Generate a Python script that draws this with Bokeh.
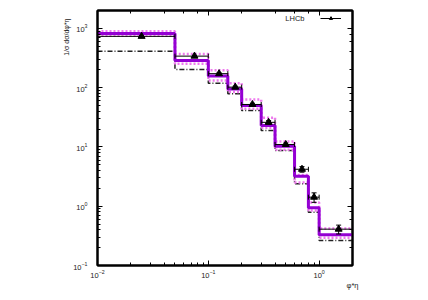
from math import pi
from bokeh.plotting import figure
from bokeh.models import (LogAxis, Label, Legend, LegendItem, Range1d,
                          LogTicker, Title)
from bokeh.embed import file_html
from bokeh.resources import INLINE

# ---- data -------------------------------------------------------------
bin_lo = [0.0, 0.05, 0.10, 0.15, 0.20, 0.30, 0.40, 0.60, 0.80, 1.00]
bin_hi = [0.05, 0.10, 0.15, 0.20, 0.30, 0.40, 0.60, 0.80, 1.00, 2.00]
lhcb_y = [733, 340, 172, 102, 52, 26, 11.0, 4.2, 1.42, 0.41]
lhcb_err = [22, 10, 6, 4, 2.5, 1.8, 0.6, 0.45, 0.26, 0.07]
central = [815, 288, 157, 95, 50, 23, 10.3, 3.2, 0.94, 0.33]
band_up = [890, 368, 196, 119, 63, 31, 12.4, 3.35, 1.15, 0.42]
band_dn = [753, 254, 132, 84, 44, 21, 9.0, 2.5, 0.85, 0.295]
alt_pred = [410, 203, 118, 79, 41, 19, 8.7, 2.4, 0.79, 0.264]

XMIN, XMAX = 0.01, 2.0
YMIN, YMAX = 0.1, 2000

FONT = "Liberation Sans"

p = figure(width=428, height=300, x_axis_type="log", y_axis_type="log",
           x_range=Range1d(XMIN, XMAX), y_range=Range1d(YMIN, YMAX),
           output_backend="svg", toolbar_location=None,
           min_border_left=97, min_border_right=76, min_border_top=10,
           min_border_bottom=35)
p.grid.visible = False
p.outline_line_color = "black"
p.outline_line_width = 2
p.background_fill_color = "white"
p.border_fill_color = "white"

def style_axis(ax, labels=True):
    ax.major_tick_in = 5
    ax.major_tick_out = 0
    ax.minor_tick_in = 3
    ax.minor_tick_out = 0
    ax.axis_line_width = 2
    ax.axis_line_color = "black"
    ax.major_tick_line_width = 1
    ax.minor_tick_line_width = 1
    ax.major_label_text_font = FONT
    ax.major_label_text_font_size = "7.5px"
    if labels:
        ax.major_label_text_color = "#222222"
    else:
        ax.major_label_text_color = None
        ax.major_label_text_font_size = "1px"
        ax.major_label_standoff = 0

xa = p.xaxis[0]
ya = p.yaxis[0]
style_axis(xa)
style_axis(ya)
xa.major_label_standoff = 4
ya.major_label_standoff = 10

top_ax = LogAxis(ticker=LogTicker())
right_ax = LogAxis(ticker=LogTicker())
style_axis(top_ax, labels=False)
style_axis(right_ax, labels=False)
p.add_layout(top_ax, "above")
p.add_layout(right_ax, "right")

# axis titles
xa.axis_label = "φ*η"
xa.axis_label_text_font = FONT
xa.axis_label_text_font_size = "7.5px"
xa.axis_label_text_font_style = "normal"
xa.axis_label_text_color = "#222222"
xa.axis_label_standoff = 0
xa.axis_label_align = "end"

ytitle = Title(text="1/σ dσ/dφ*η", align="right", offset=8, standoff=2,
               text_font=FONT, text_font_size="7px",
               text_font_style="normal", text_color="#222222")
p.add_layout(ytitle, "left")

# ---- step lines -------------------------------------------------------
edges = [max(bin_lo[0], XMIN)] + bin_hi

def stepvals(v):
    return list(v) + [v[-1]]

p.step(edges, stepvals(alt_pred), mode="after", line_color="#222222",
       line_width=1.5, line_dash="5 2 1 2")
p.step(edges, stepvals(band_up), mode="after", line_color="#EE7AEE",
       line_width=2.5, line_dash="2 2")
p.step(edges, stepvals(band_dn), mode="after", line_color="#EE7AEE",
       line_width=2.5, line_dash="2 2")
p.step(edges, stepvals(central), mode="after", line_color="#9400D3",
       line_width=3)

# ---- data points ------------------------------------------------------
xc = [(a + b) / 2 for a, b in zip(bin_lo, bin_hi)]
x0 = [max(a, XMIN * 0.5) for a in bin_lo]
hseg = p.segment(x0=x0, y0=lhcb_y, x1=bin_hi, y1=lhcb_y,
                 line_color="black", line_width=1)
cap_x = [a for a in bin_lo if a > 0] + bin_hi
cap_y = [y for a, y in zip(bin_lo, lhcb_y) if a > 0] + lhcb_y
p.scatter(cap_x, cap_y, marker="dash", angle=pi / 2, size=5,
          line_color="black", line_width=1)
ylo = [y - e for y, e in zip(lhcb_y, lhcb_err)]
yhi = [y + e for y, e in zip(lhcb_y, lhcb_err)]
p.segment(x0=xc, y0=ylo, x1=xc, y1=yhi, line_color="black", line_width=1)
p.scatter(xc + xc, ylo + yhi, marker="dash", size=5, line_color="black",
          line_width=1)
tri = p.scatter(xc, lhcb_y, marker="triangle", size=7, fill_color="black",
                line_color="black")

# ---- legend -----------------------------------------------------------
leg = Legend(items=[LegendItem(label=" ", renderers=[hseg, tri])],
             location=(223, 243), orientation="vertical",
             padding=0, margin=0, spacing=0, glyph_width=21, glyph_height=8,
             label_standoff=0, label_width=1, label_height=1,
             label_text_font_size="2px", label_text_color=None,
             border_line_color=None, background_fill_alpha=0)
p.add_layout(leg)
p.add_layout(Label(x=207, y=247, x_units="screen", y_units="screen",
                   text="LHCb", text_align="right", text_baseline="middle",
                   text_font=FONT, text_font_size="7.5px", text_color="#222222"))

open("out.html", "w").write(file_html(p, INLINE))
